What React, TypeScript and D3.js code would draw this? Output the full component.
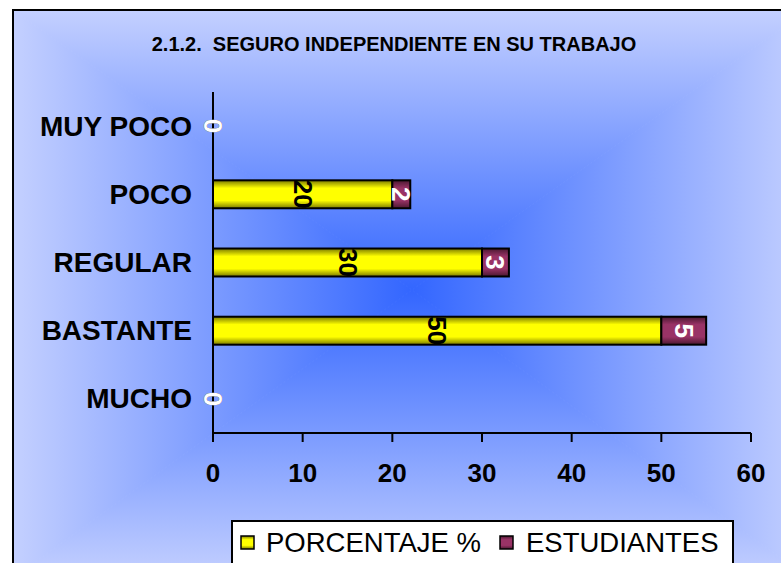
import React from "react";
import * as d3 from "d3";

const title = "2.1.2.  SEGURO INDEPENDIENTE EN SU TRABAJO";
const categories = ["MUY POCO", "POCO", "REGULAR", "BASTANTE", "MUCHO"];
const porcentaje = [0, 20, 30, 50, 0];
const estudiantes = [0, 2, 3, 5, 0];
const seriesNames = ["PORCENTAJE %", "ESTUDIANTES"];
const xTicks = [0, 10, 20, 30, 40, 50, 60];

const W = 781;
const H = 563;
const FONT = "'Liberation Sans', Arial, sans-serif";

export default function App() {
  const x = d3.scaleLinear().domain([0, 60]).range([213, 751]);
  const y = d3
    .scaleBand<string>()
    .domain(categories)
    .range([92, 433])
    .paddingInner(0.59)
    .paddingOuter(0.295);

  // frame / gradient geometry
  const fx0 = 13, fy0 = 10, fx1 = 808, fy1 = 578;
  const cx = 412, cy = 290;
  const dark = "#3366ff";
  const light = "#c4d0ff";

  const tris = [
    { id: "gT", pts: [[fx0, fy0], [fx1, fy0], [cx, cy]], g: [cx, cy, cx, fy0] },
    { id: "gB", pts: [[fx0, fy1], [fx1, fy1], [cx, cy]], g: [cx, cy, cx, fy1] },
    { id: "gL", pts: [[fx0, fy0], [fx0, fy1], [cx, cy]], g: [cx, cy, fx0, cy] },
    { id: "gR", pts: [[fx1, fy0], [fx1, fy1], [cx, cy]], g: [cx, cy, fx1, cy] },
  ];

  const bh = y.bandwidth();

  return (
    <svg
      width={W}
      height={H}
      style={{ position: "absolute", left: 0, top: 0 }}
      fontFamily={FONT}
    >
      <defs>
        {tris.map((t) => (
          <linearGradient
            key={t.id}
            id={t.id}
            gradientUnits="userSpaceOnUse"
            x1={t.g[0]}
            y1={t.g[1]}
            x2={t.g[2]}
            y2={t.g[3]}
          >
            <stop offset="0" stopColor={dark} />
            <stop offset="1" stopColor={light} />
          </linearGradient>
        ))}
        <linearGradient id="yel" x1="0" y1="0" x2="0" y2="1">
          <stop offset="0" stopColor="#7a7a00" />
          <stop offset="0.28" stopColor="#ffff00" />
          <stop offset="0.72" stopColor="#ffff00" />
          <stop offset="1" stopColor="#7a7a00" />
        </linearGradient>
        <linearGradient id="mar" x1="0" y1="0" x2="0" y2="1">
          <stop offset="0" stopColor="#4a1830" />
          <stop offset="0.28" stopColor="#993366" />
          <stop offset="0.72" stopColor="#993366" />
          <stop offset="1" stopColor="#4a1830" />
        </linearGradient>
      </defs>
      <rect x={0} y={0} width={W} height={H} fill="#ffffff" />
      {tris.map((t) => (
        <polygon
          key={t.id}
          points={t.pts.map((p) => p.join(",")).join(" ")}
          fill={`url(#${t.id})`}
          stroke={`url(#${t.id})`}
          strokeWidth={1}
        />
      ))}
      <rect
        x={fx0}
        y={fy0}
        width={fx1 - fx0}
        height={fy1 - fy0}
        fill="none"
        stroke="#000"
        strokeWidth={2}
      />

      <text
        x={394}
        y={44}
        textAnchor="middle"
        dominantBaseline="central"
        fontWeight="bold"
        fontSize={20}
        style={{ whiteSpace: "pre" }}
      >
        {title}
      </text>

      {/* bars */}
      {categories.map((c, i) => {
        const y0 = y(c)!;
        return (
          <g key={c}>
            <rect
              x={x(0)}
              y={y0}
              width={x(porcentaje[i]) - x(0)}
              height={bh}
              fill="url(#yel)"
              stroke="#000"
              strokeWidth={2}
            />
            <rect
              x={x(porcentaje[i])}
              y={y0}
              width={x(porcentaje[i] + estudiantes[i]) - x(porcentaje[i])}
              height={bh}
              fill="url(#mar)"
              stroke="#000"
              strokeWidth={2}
            />
          </g>
        );
      })}

      {/* axes */}
      <line x1={213} y1={y.range()[0]} x2={213} y2={433} stroke="#000" strokeWidth={2} />
      <line x1={213} y1={433} x2={751} y2={433} stroke="#000" strokeWidth={2} />
      {xTicks.map((t) => (
        <g key={t}>
          <line x1={x(t)} y1={433} x2={x(t)} y2={442} stroke="#000" strokeWidth={2} />
          <text
            x={x(t)}
            y={473}
            textAnchor="middle"
            dominantBaseline="central"
            fontWeight="bold"
            fontSize={26}
          >
            {t}
          </text>
        </g>
      ))}
      {categories.map((c) => (
        <text
          key={c}
          x={192}
          y={y(c)! + bh / 2}
          textAnchor="end"
          dominantBaseline="central"
          fontWeight="bold"
          fontSize={28}
        >
          {c}
        </text>
      ))}

      {/* data labels */}
      {categories.map((c, i) => {
        const yc = y(c)! + bh / 2;
        const xa = (x(0) + x(porcentaje[i])) / 2;
        const xb = (x(porcentaje[i]) + x(porcentaje[i] + estudiantes[i])) / 2;
        return (
          <g key={c}>
            <text
              transform={`translate(${xa},${yc}) rotate(90)`}
              textAnchor="middle"
              dominantBaseline="central"
              fontWeight="bold"
              fontSize={26}
              fill="#000"
            >
              {porcentaje[i]}
            </text>
            <text
              transform={`translate(${xb},${yc}) rotate(90)`}
              textAnchor="middle"
              dominantBaseline="central"
              fontWeight="bold"
              fontSize={26}
              fill="#fff"
            >
              {estudiantes[i]}
            </text>
          </g>
        );
      })}

      {/* legend */}
      <rect x={232} y={521} width={501} height={60} fill="#fff" stroke="#000" strokeWidth={2} />
      <rect x={241} y={536} width={13} height={13} fill="url(#yel)" stroke="#000" strokeWidth={1.5} />
      <text x={266} y={552} fontSize={27.5}>
        {seriesNames[0]}
      </text>
      <rect x={500} y={536} width={13} height={13} fill="url(#mar)" stroke="#000" strokeWidth={1.5} />
      <text x={526} y={552} fontSize={27.5}>
        {seriesNames[1]}
      </text>
    </svg>
  );
}
